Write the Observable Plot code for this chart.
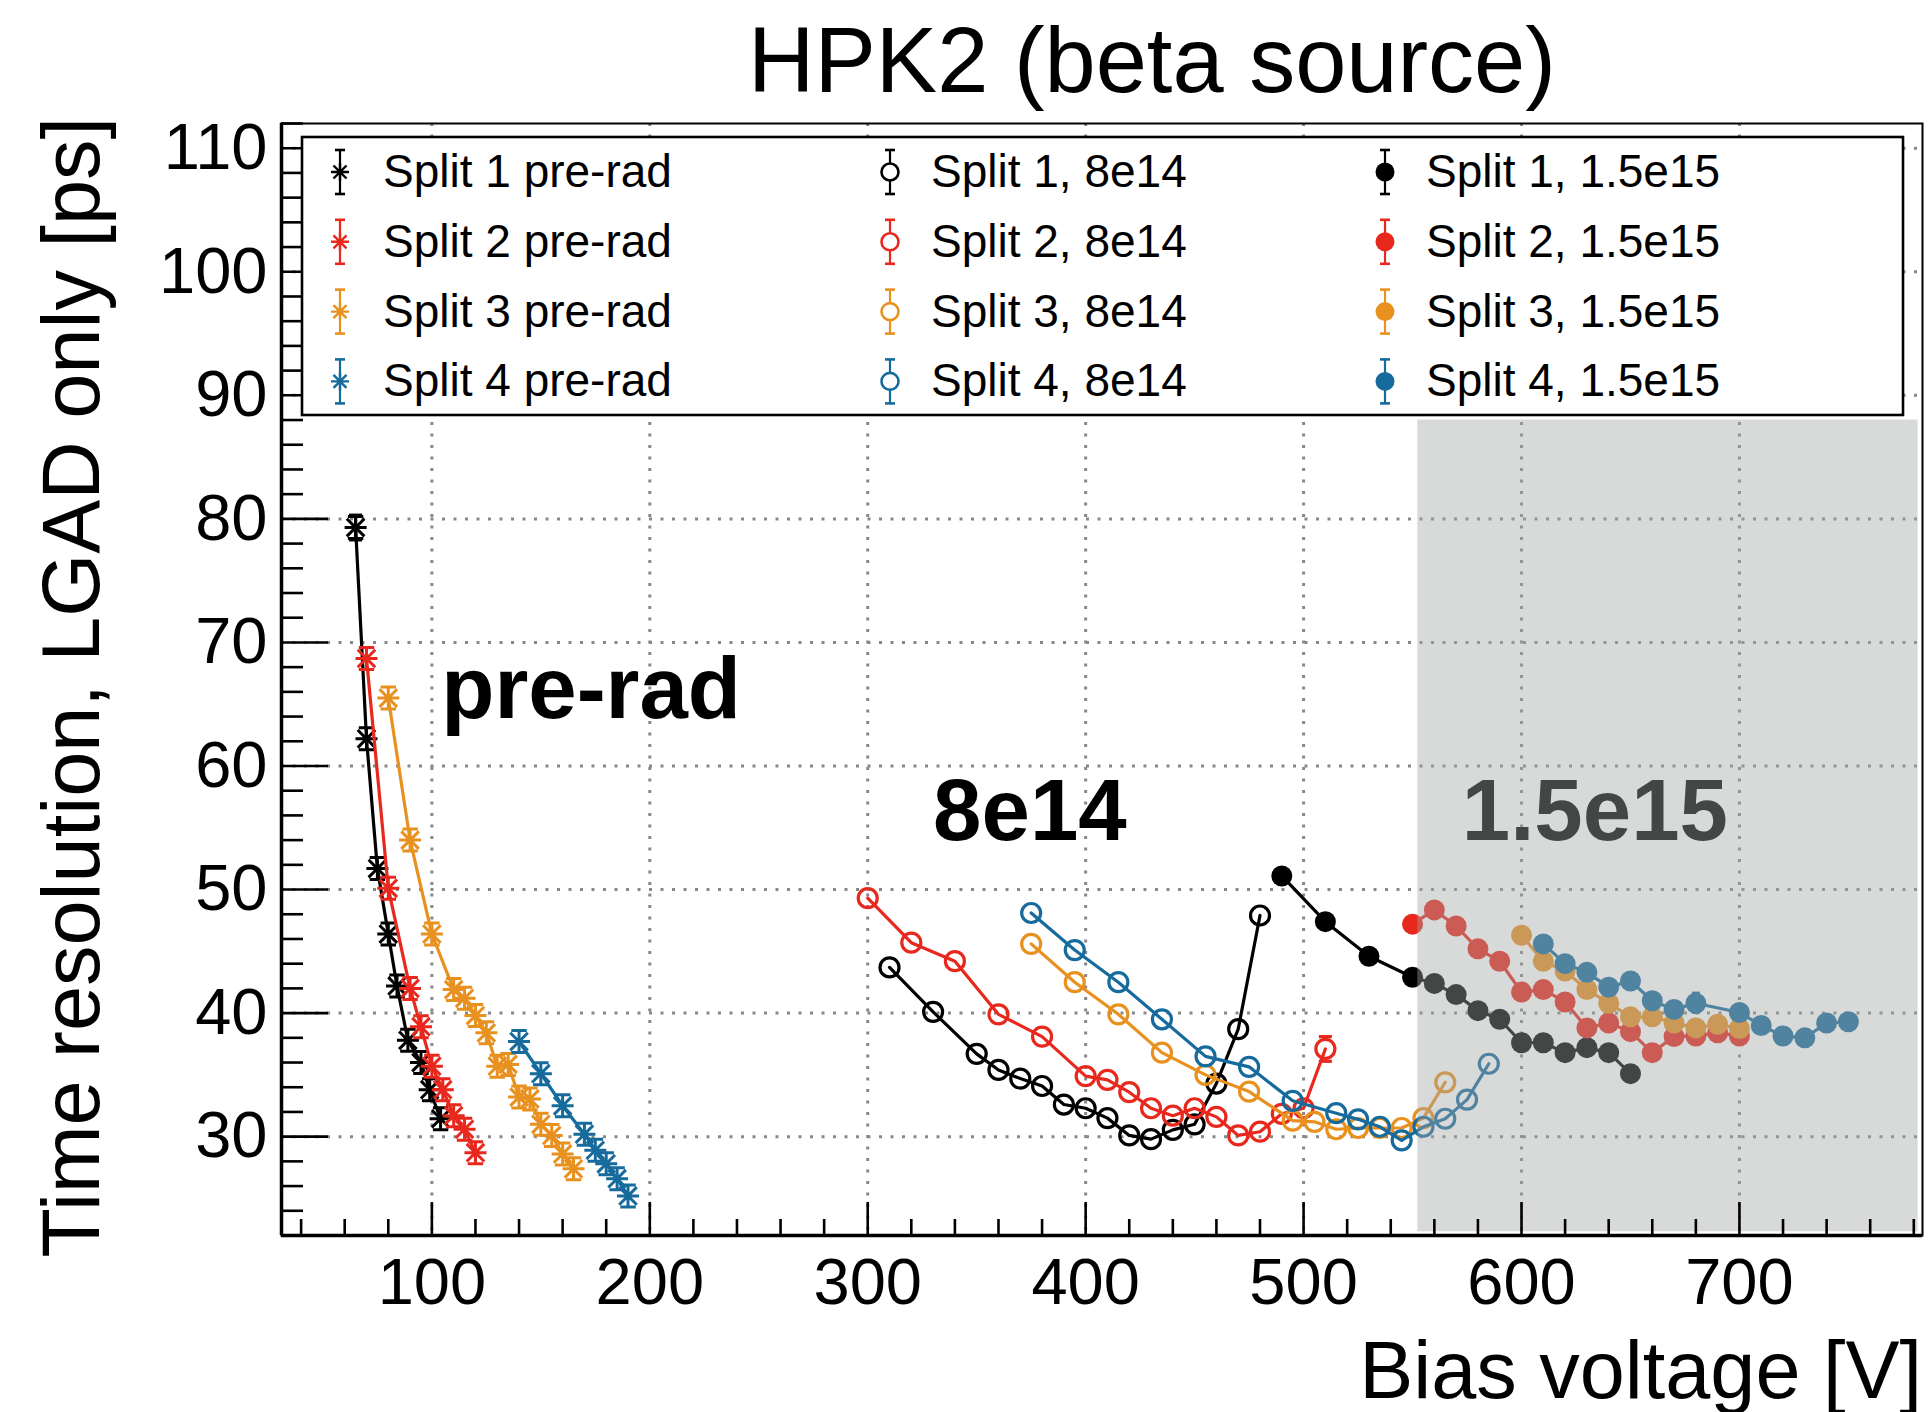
<!DOCTYPE html>
<html>
<head>
<meta charset="utf-8">
<script src="https://cdn.jsdelivr.net/npm/d3@7"></script>
<script src="https://cdn.jsdelivr.net/npm/@observablehq/plot@0.6"></script>
<style>
html, body { margin: 0; padding: 0; background: #fff; }
#wrap { position: relative; width: 1932px; height: 1412px; font-family: "Liberation Sans", Arial, Helvetica, sans-serif; }
#title { position: absolute; left: 748px; top: 14px; font-size: 92px; line-height: 1; white-space: nowrap; color: #000; }
#chart { position: absolute; left: 0; top: 0; }
</style>
</head>
<body>
<div id="wrap">
  <div id="chart"></div>
  <div id="title">HPK2 (beta source)</div>
</div>
<script>
// ---------------- data ----------------
const splitLabels = ["Split 1", "Split 2", "Split 3", "Split 4"];
const splitColors = ["#000000", "#e8281d", "#e8911f", "#166b9c"];
const fluenceGroups = ["pre-rad", "8e14", "1.5e15"];

// pre-rad (bias voltage [V], time resolution [ps])
const v_pre_1 = [65, 70, 75, 80, 84, 89, 95, 99, 104];
const t_pre_1 = [79.3, 62.2, 51.7, 46.4, 42.2, 37.8, 36.0, 33.8, 31.45];
const v_pre_2 = [70, 80, 90, 95, 100, 105, 110, 115, 120];
const t_pre_2 = [68.7, 50.1, 42.0, 38.9, 35.7, 33.8, 31.7, 30.6, 28.7];
const v_pre_3 = [80, 90, 100, 110, 115, 120, 125, 130, 135, 140, 145, 150, 155, 160, 165];
const t_pre_3 = [65.5, 54.0, 46.4, 41.9, 41.2, 39.8, 38.4, 35.7, 35.85, 33.2, 33.05, 31.0, 30.1, 28.6, 27.4];
const v_pre_4 = [140, 150, 160, 170, 175, 180, 185, 190];
const t_pre_4 = [37.7, 35.1, 32.5, 30.2, 28.9, 27.8, 26.6, 25.2];

// 8e14
const v_8e14_1 = [310, 330, 350, 360, 370, 380, 390, 400, 410, 420, 430, 440, 450, 460, 470, 480];
const t_8e14_1 = [43.7, 40.1, 36.7, 35.4, 34.7, 34.1, 32.6, 32.3, 31.5, 30.1, 29.8, 30.55, 31.0, 34.3, 38.7, 47.9];
const v_8e14_2 = [300, 320, 340, 360, 380, 400, 410, 420, 430, 440, 450, 460, 470, 480, 490, 500, 510];
const t_8e14_2 = [49.3, 45.7, 44.2, 39.9, 38.1, 34.9, 34.6, 33.6, 32.3, 31.7, 32.3, 31.6, 30.1, 30.4, 31.85, 32.3, 37.1];
const v_8e14_3 = [375, 395, 415, 435, 455, 475, 495, 505, 515, 525, 535, 545, 555, 565];
const t_8e14_3 = [45.6, 42.5, 39.9, 36.8, 35.0, 33.65, 31.3, 31.2, 30.6, 30.7, 30.7, 30.7, 31.5, 34.4];
const v_8e14_4 = [375, 395, 415, 435, 455, 475, 495, 515, 525, 535, 545, 555, 565, 575, 585];
const t_8e14_4 = [48.1, 45.1, 42.5, 39.5, 36.5, 35.65, 32.9, 31.9, 31.4, 30.8, 29.7, 30.8, 31.45, 33.0, 35.9];

// 1.5e15
const v_15e15_1 = [490, 510, 530, 550, 560, 570, 580, 590, 600, 610, 620, 630, 640, 650];
const t_15e15_1 = [51.1, 47.4, 44.6, 42.9, 42.4, 41.5, 40.2, 39.5, 37.6, 37.6, 36.8, 37.2, 36.8, 35.1];
const v_15e15_2 = [550, 560, 570, 580, 590, 600, 610, 620, 630, 640, 650, 660, 670, 680, 690, 700];
const t_15e15_2 = [47.2, 48.35, 47.05, 45.2, 44.2, 41.7, 41.9, 40.9, 38.8, 39.2, 38.5, 36.8, 38.1, 38.15, 38.4, 38.15];
const v_15e15_3 = [600, 610, 620, 630, 640, 650, 660, 670, 680, 690, 700];
const t_15e15_3 = [46.3, 44.2, 43.4, 41.9, 40.8, 39.7, 39.7, 39.2, 38.8, 39.1, 38.75];
const v_15e15_4 = [610, 620, 630, 640, 650, 660, 670, 680, 700, 710, 720, 730, 740, 750];
const t_15e15_4 = [45.6, 44.0, 43.3, 42.1, 42.6, 41.0, 40.3, 40.8, 40.05, 39.0, 38.15, 38.0, 39.2, 39.3];

// visible error bars (others are smaller than the markers)
const errorBars = [
  {group: "pre-rad", split: 1, v: 65, err: 1.0},
  {group: "8e14", split: 2, v: 510, err: 1.0},
  {group: "1.5e15", split: 4, v: 680, err: 0.9}
];

// shaded region (V, ps)
const shadedRegion = {x1: 552.4, x2: 782, y1: 22.3, y2: 88};

const annotations = [
  {text: "pre-rad", v: 104.3, t: 63.85},
  {text: "8e14", v: 330, t: 54},
  {text: "1.5e15", v: 572.6, t: 54}
];

const xDomain = [31, 784];
const yDomain = [22, 112];
const majorX = [100, 200, 300, 400, 500, 600, 700];
const majorY = [30, 40, 50, 60, 70, 80, 90, 100, 110];
const minorX = d3.range(40, 784, 20).filter(v => !majorX.includes(v));
const minorY = d3.range(22, 113, 2).filter(v => !majorY.includes(v));

const xTitle = "Bias voltage [V]";
const yTitle = "Time resolution, LGAD only [ps]";

// ---------------- build ----------------
const rawSeries = {
  "pre-rad": [[v_pre_1, t_pre_1], [v_pre_2, t_pre_2], [v_pre_3, t_pre_3], [v_pre_4, t_pre_4]],
  "8e14": [[v_8e14_1, t_8e14_1], [v_8e14_2, t_8e14_2], [v_8e14_3, t_8e14_3], [v_8e14_4, t_8e14_4]],
  "1.5e15": [[v_15e15_1, t_15e15_1], [v_15e15_2, t_15e15_2], [v_15e15_3, t_15e15_3], [v_15e15_4, t_15e15_4]]
};
const markerOf = {"pre-rad": "star", "8e14": "open", "1.5e15": "filled"};

const series = [];
fluenceGroups.forEach(g => {
  rawSeries[g].forEach(([vs, ts], i) => {
    series.push({
      group: g, split: i + 1,
      label: g === "pre-rad" ? `${splitLabels[i]} pre-rad` : `${splitLabels[i]}, ${g}`,
      color: splitColors[i], marker: markerOf[g],
      rows: vs.map((v, k) => ({v, t: ts[k]}))
    });
  });
});

const W = 1932, H = 1412;
const mL = 281, mR = 10, mT = 123, mB = 177;
const plotW = W - mL - mR;
const plotH = H - mT - mB;
const pxPerPs = plotH / (yDomain[1] - yDomain[0]);

const starCapped = {
  draw(ctx, size) {
    const r = Math.sqrt(size / Math.PI);
    const d = r * 0.8, c = r * 0.7;
    ctx.moveTo(-r, 0); ctx.lineTo(r, 0);
    ctx.moveTo(0, -r); ctx.lineTo(0, r);
    ctx.moveTo(-d, -d); ctx.lineTo(d, d);
    ctx.moveTo(-d, d); ctx.lineTo(d, -d);
    ctx.moveTo(-c, -r); ctx.lineTo(c, -r);
    ctx.moveTo(-c, r); ctx.lineTo(c, r);
  }
};
const capSym = {
  draw(ctx, size) {
    const r = Math.sqrt(size / Math.PI);
    ctx.moveTo(-r, 0); ctx.lineTo(r, 0);
  }
};

const marks = [];
const gridStyle = {stroke: "#888", strokeOpacity: 1, strokeWidth: 3, strokeDasharray: "3,8.5"};
marks.push(Plot.gridX({ticks: majorX, ...gridStyle}));
marks.push(Plot.gridY({ticks: majorY, ...gridStyle}));

const MR = 11; // marker radius px
const LW = 3.2; // connecting line width
series.forEach(s => {
  marks.push(Plot.line(s.rows, {x: "v", y: "t", stroke: s.color, strokeWidth: LW}));
  const eb = errorBars.filter(e => e.group === s.group && e.split === s.split).map(e => {
    const row = s.rows.find(r => r.v === e.v);
    return {v: e.v, t: row.t, err: e.err};
  });
  if (eb.length) {
    if (s.marker === "open") {
      const gap = MR / pxPerPs;
      marks.push(Plot.ruleX(eb, {x: "v", y1: d => d.t + gap, y2: d => d.t + d.err, stroke: s.color, strokeWidth: LW}));
      marks.push(Plot.ruleX(eb, {x: "v", y1: d => d.t - gap, y2: d => d.t - d.err, stroke: s.color, strokeWidth: LW}));
    } else {
      marks.push(Plot.ruleX(eb, {x: "v", y1: d => d.t - d.err, y2: d => d.t + d.err, stroke: s.color, strokeWidth: s.marker === "filled" ? 8 : LW}));
    }
    if (s.marker !== "filled") {
      const caps = eb.flatMap(d => [{v: d.v, t: d.t + d.err}, {v: d.v, t: d.t - d.err}]);
      marks.push(Plot.dot(caps, {x: "v", y: "t", symbol: capSym, r: 6.5, stroke: s.color, strokeWidth: LW, fill: "none"}));
    }
  }
  if (s.marker === "star") {
    marks.push(Plot.dot(s.rows, {x: "v", y: "t", symbol: starCapped, r: MR, stroke: s.color, strokeWidth: 3, fill: "none"}));
  } else if (s.marker === "open") {
    marks.push(Plot.dot(s.rows, {x: "v", y: "t", r: MR - 1.5, stroke: s.color, strokeWidth: 3.2, fill: "none"}));
  } else {
    marks.push(Plot.dot(s.rows, {x: "v", y: "t", r: MR - 0.5, fill: s.color, stroke: "none"}));
  }
});

marks.push(Plot.text(annotations, {x: "v", y: "t", text: "text", textAnchor: "start", lineAnchor: "bottom", fontSize: 87, fontWeight: "bold", fill: "#000"}));

// semi-transparent grey band on top of the data
marks.push(Plot.rect([shadedRegion], {x1: "x1", x2: "x2", y1: "y1", y2: "y2", fill: "rgb(162,164,164)", fillOpacity: 0.42}));

// ticks (ROOT style, inside the frame)
marks.push(Plot.ruleX(majorX, {x: d => d, insetTop: plotH - 33, stroke: "#000", strokeWidth: 2.6}));
marks.push(Plot.ruleX(minorX, {x: d => d, insetTop: plotH - 16, stroke: "#000", strokeWidth: 2.6}));
marks.push(Plot.ruleY(majorY, {y: d => d, insetRight: plotW - 47, stroke: "#000", strokeWidth: 2.6}));
marks.push(Plot.ruleY(minorY, {y: d => d, insetRight: plotW - 22, stroke: "#000", strokeWidth: 2.6}));

marks.push(Plot.frame({stroke: "#000", strokeWidth: 2}));
marks.push(Plot.ruleX([xDomain[0]], {stroke: "#000", strokeWidth: 3.5}));
marks.push(Plot.ruleY([yDomain[0]], {stroke: "#000", strokeWidth: 3.5}));

marks.push(Plot.axisX({ticks: majorX, tickSize: 0, tickPadding: 22, fontSize: 65, label: null}));
marks.push(Plot.axisY({ticks: majorY, tickSize: 0, tickPadding: 14, fontSize: 65, label: null}));

const chart = Plot.plot({
  width: W, height: H,
  marginLeft: mL, marginRight: mR, marginTop: mT, marginBottom: mB,
  style: {fontFamily: "'Liberation Sans', Arial, Helvetica, sans-serif", color: "#000", background: "transparent", overflow: "visible"},
  x: {domain: xDomain, axis: null},
  y: {domain: yDomain, axis: null},
  marks
});
document.getElementById("chart").appendChild(chart);

// ---------------- legend & axis titles ----------------
const svg = d3.select(chart);
const lg = svg.append("g").attr("font-family", "'Liberation Sans', Arial, Helvetica, sans-serif")
  .attr("text-anchor", "start");
lg.append("rect").attr("x", 302).attr("y", 137).attr("width", 1601).attr("height", 278)
  .attr("fill", "#fff").attr("stroke", "#000").attr("stroke-width", 2.6);

const colMarkerX = [340, 890, 1385];
const colTextX = [383, 931, 1426];
const rowBaseline0 = 187, rowStep = 69.8;

series.forEach(s => {
  const c = fluenceGroups.indexOf(s.group);
  const r = s.split - 1;
  const base = rowBaseline0 + r * rowStep;
  const cy = base - 15;
  const mx = colMarkerX[c];
  const g = lg.append("g");
  g.append("line").attr("x1", mx).attr("x2", mx).attr("y1", cy - 22).attr("y2", cy + 22)
    .attr("stroke", s.color).attr("stroke-width", 2.2);
  [cy - 22, cy + 22].forEach(yy => g.append("line").attr("x1", mx - 5).attr("x2", mx + 5)
    .attr("y1", yy).attr("y2", yy).attr("stroke", s.color).attr("stroke-width", 2.6));
  if (s.marker === "star") {
    const rr = 9, d = 6.5;
    g.append("path").attr("d", `M${mx - rr},${cy}H${mx + rr}M${mx},${cy - rr}V${cy + rr}M${mx - d},${cy - d}L${mx + d},${cy + d}M${mx - d},${cy + d}L${mx + d},${cy - d}`)
      .attr("stroke", s.color).attr("stroke-width", 2.4).attr("fill", "none");
  } else if (s.marker === "open") {
    g.append("circle").attr("cx", mx).attr("cy", cy).attr("r", 8.5).attr("fill", "#fff")
      .attr("stroke", s.color).attr("stroke-width", 2.6);
  } else {
    g.append("circle").attr("cx", mx).attr("cy", cy).attr("r", 9.5).attr("fill", s.color);
  }
  g.append("text").attr("x", colTextX[c]).attr("y", base).attr("font-size", 46).attr("fill", "#000").text(s.label);
});

svg.append("text").attr("x", 1922).attr("y", 1398).attr("text-anchor", "end")
  .attr("font-size", 81).attr("fill", "#000")
  .attr("font-family", "'Liberation Sans', Arial, Helvetica, sans-serif").text(xTitle);
svg.append("text").attr("transform", "translate(99,117) rotate(-90)").attr("text-anchor", "end")
  .attr("font-size", 81).attr("fill", "#000")
  .attr("font-family", "'Liberation Sans', Arial, Helvetica, sans-serif").text(yTitle);
</script>
</body>
</html>
